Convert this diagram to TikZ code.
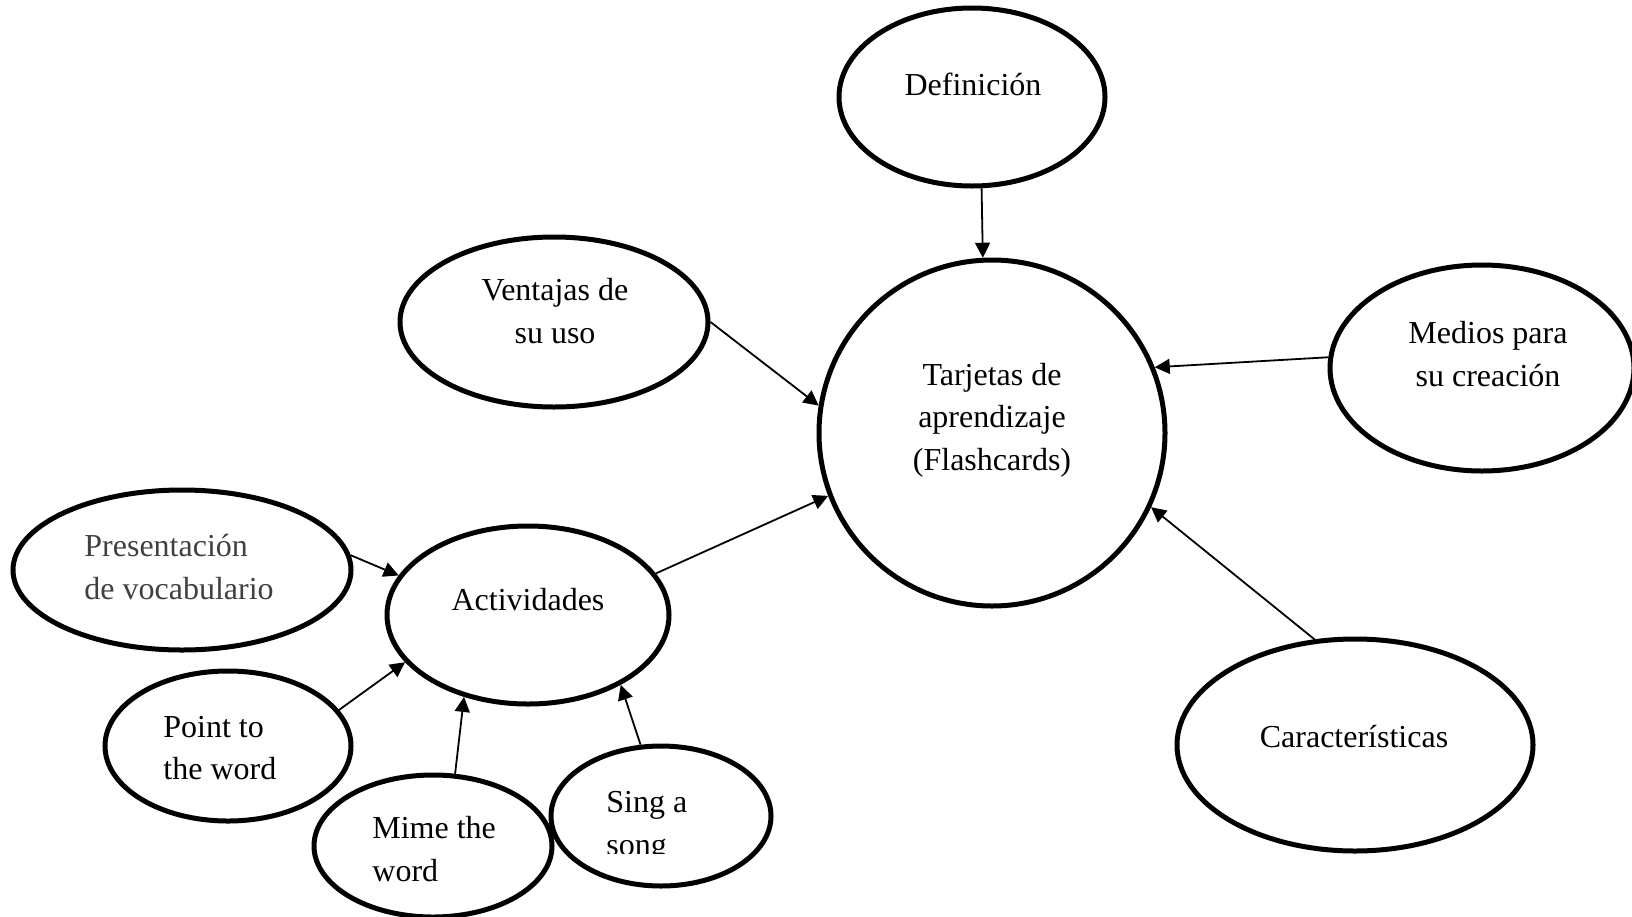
\documentclass[tikz,border=0pt]{standalone}
\usepackage{fontspec}
\setmainfont{Liberation Serif}
\usetikzlibrary{shapes.geometric,arrows.meta}

\begin{document}
\begin{tikzpicture}[x=0.5pt,y=-0.5pt,
  bubble/.style={draw,ellipse,line width=2.5pt,inner sep=0pt},
  txt/.style={font=\fontsize{16}{21.3}\selectfont,inner sep=0pt},
  link/.style={line width=0.9pt,-{Triangle[length=7.5pt,width=7.5pt]}}]
\useasboundingbox (0,0) rectangle (1632,916);
\node [bubble,minimum width=133pt,minimum height=89pt] (def) at (972,97) {};
\node [draw,circle,line width=2.5pt,inner sep=0pt,minimum size=173pt] (tarj) at (992,433) {};
\node [bubble,minimum width=154pt,minimum height=85pt] (vent) at (554,322) {};
\node [bubble,minimum width=152pt,minimum height=103pt] (med) at (1482,368) {};
\node [bubble,minimum width=178pt,minimum height=106pt] (car) at (1355,745) {};
\node [bubble,minimum width=141pt,minimum height=89pt] (act) at (528,615) {};
\node [bubble,minimum width=169pt,minimum height=80pt] (pres) at (182,570) {};
\node [bubble,minimum width=123pt,minimum height=75pt] (point) at (228,746) {};
\node [bubble,minimum width=119pt,minimum height=71pt] (mime) at (433,846) {};
\node [bubble,minimum width=110pt,minimum height=70pt] (sing) at (661,816) {};
\node [txt] (deft) at (973,84) {Definición};
\node [txt,align=center] (tarjt) at (992,420) {Tarjetas de\\aprendizaje\\(Flashcards)};
\node [txt,align=center] (ventt) at (555,311) {Ventajas de\\su uso};
\node [txt,align=center] (medt) at (1488,354) {Medios para\\su creación};
\node [txt] (cart) at (1354,737) {Características};
\node [txt] (actt) at (528,600) {Actividades};
\node [txt,align=left,anchor=west,text=black!75] (prest) at (84,567) {Presentación\\de vocabulario};
\node [txt,align=left,anchor=west] (pointt) at (163,748) {Point to\\the word};
\node [txt,align=left,anchor=west] (mimet) at (372,849) {Mime the\\word};
\begin{scope}
\clip (560,760) rectangle (780,853);
\node [txt,align=left,anchor=west] (singt) at (606,827) {Sing a\\song};
\end{scope}
\draw [link] (def.-84) -- (tarj.93);
\draw [link] (vent.0) -- (tarj.171);
\draw [link] (med.176) -- (tarj.22);
\draw [link] (car.111) -- (tarj.-25);
\draw [link] (act.18) -- (tarj.-159);
\draw [link] (pres.5) -- (act.163);
\draw [link] (point.18) -- (act.201);
\draw [link] (mime.73) -- (act.232);
\draw [link] (sing.106) -- (act.-37);
\end{tikzpicture}
\end{document}
